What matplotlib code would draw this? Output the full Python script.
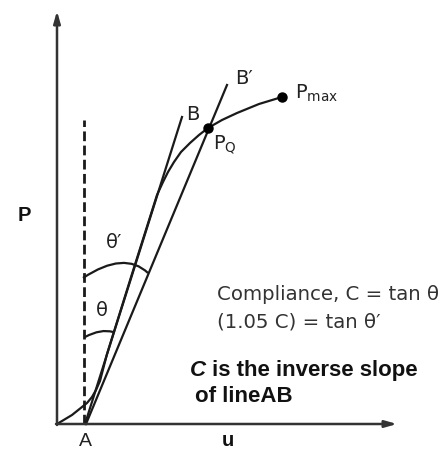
import numpy as np
import matplotlib.pyplot as plt
from matplotlib.path import Path
from matplotlib.patches import PathPatch

# Curva carga-desplazamiento (esquema), coordenadas
u_curva = [0, 15, 30, 35, 39, 43, 50, 75, 100, 106, 111, 117, 124, 133,
           142, 151, 165, 180, 202, 225]
P_curva = [0, 9, 21, 27, 34, 43, 70, 150, 229, 242, 252, 262, 272, 281,
           289, 296, 304, 311, 320, 327]

# Rectas AB y AB'
AB_u = [28, 125]
AB_P = [0, 307]
ABp_u = [29, 170]
ABp_P = [0, 339]

# Linea vertical discontinua en A
vert_u = [27, 27]
vert_P = [0, 304]

# Arcos de los angulos (inicio, punto medio, final)
arco_tp = [(26, 146), (63, 161), (91, 151)]
arco_t = [(28, 87), (43, 92.5), (56, 92)]

# Puntos PQ y Pmax
PQ = (151, 296)
Pmax = (225, 327)

color_linea = '#1a1a1a'

fig = plt.figure(figsize=(4.48, 4.49), dpi=100)
ax = fig.add_axes([0, 0, 1, 1])
ax.set_xlim(-57, 391)
ax.set_ylim(-25, 424)
ax.axis('off')

# Ejes con flechas
ax.annotate('', xy=(0, 413), xytext=(0, -1),
            arrowprops=dict(arrowstyle='-|>,head_length=0.7,head_width=0.2',
                            color='#333333', lw=1.8, shrinkA=0, shrinkB=0))
ax.annotate('', xy=(340, 0), xytext=(-1, 0),
            arrowprops=dict(arrowstyle='-|>,head_length=0.7,head_width=0.2',
                            color='#333333', lw=1.8, shrinkA=0, shrinkB=0))

ax.plot(vert_u, vert_P, color=color_linea, lw=2, linestyle=(0, (3.5, 1.6)))
ax.plot(u_curva, P_curva, color=color_linea, lw=1.6, solid_capstyle='round',
        solid_joinstyle='round')
ax.plot(AB_u, AB_P, color=color_linea, lw=1.6)
ax.plot(ABp_u, ABp_P, color=color_linea, lw=1.6)


def arco(puntos):
    p0, pm, p1 = np.array(puntos[0]), np.array(puntos[1]), np.array(puntos[2])
    ctrl = 2 * pm - (p0 + p1) / 2
    path = Path([p0, ctrl, p1], [Path.MOVETO, Path.CURVE3, Path.CURVE3])
    ax.add_patch(PathPatch(path, fill=False, color=color_linea, lw=1.6))


arco(arco_tp)
arco(arco_t)

ax.plot(*PQ, 'o', color='black', markersize=6.5)
ax.plot(*Pmax, 'o', color='black', markersize=6.5)

txt = dict(color='#222222', fontsize=14, family='DejaVu Sans')
ax.text(136, 310, 'B', ha='center', va='center', **txt)
ax.text(187, 345, 'B\u2032', ha='center', va='center', **txt)
ax.text(238, 331, r'P$_{\mathregular{max}}$', ha='left', va='center', **txt)
ax.text(156, 279, r'P$_{\mathregular{Q}}$', ha='left', va='center', **txt)
ax.text(57, 181, '\u03b8\u2032', ha='center', va='center', **txt)
ax.text(45, 114, '\u03b8', ha='center', va='center', **txt)

ax.text(160, 124, 'Compliance, C = tan \u03b8', ha='left', va='baseline',
        color='#333333', fontsize=14.2, family='DejaVu Sans')
ax.text(160, 96, '(1.05 C) = tan \u03b8\u2032', ha='left', va='baseline',
        color='#333333', fontsize=14.2, family='DejaVu Sans')

negrita = dict(color='#111111', fontsize=16, fontweight='bold',
               family='Liberation Sans')
tC = ax.text(133, 48, 'C', ha='left', va='baseline', style='italic', **negrita)
ax.annotate(' is the inverse slope', xy=(1, 0), xycoords=tC,
            ha='left', va='bottom', **negrita)
ax.text(138, 22, 'of lineAB', ha='left', va='baseline', **negrita)

ax.text(-32.5, 208.5, 'P', ha='center', va='center', fontsize=14.5,
        fontweight='bold', family='Liberation Sans', color='#111111')
ax.text(171, -17, 'u', ha='center', va='center', fontsize=14.5,
        fontweight='bold', family='Liberation Sans', color='#111111')
ax.text(28, -18, 'A', ha='center', va='center', fontsize=14,
        family='Liberation Sans', color='#222222')

plt.savefig('out.png', dpi=100)
